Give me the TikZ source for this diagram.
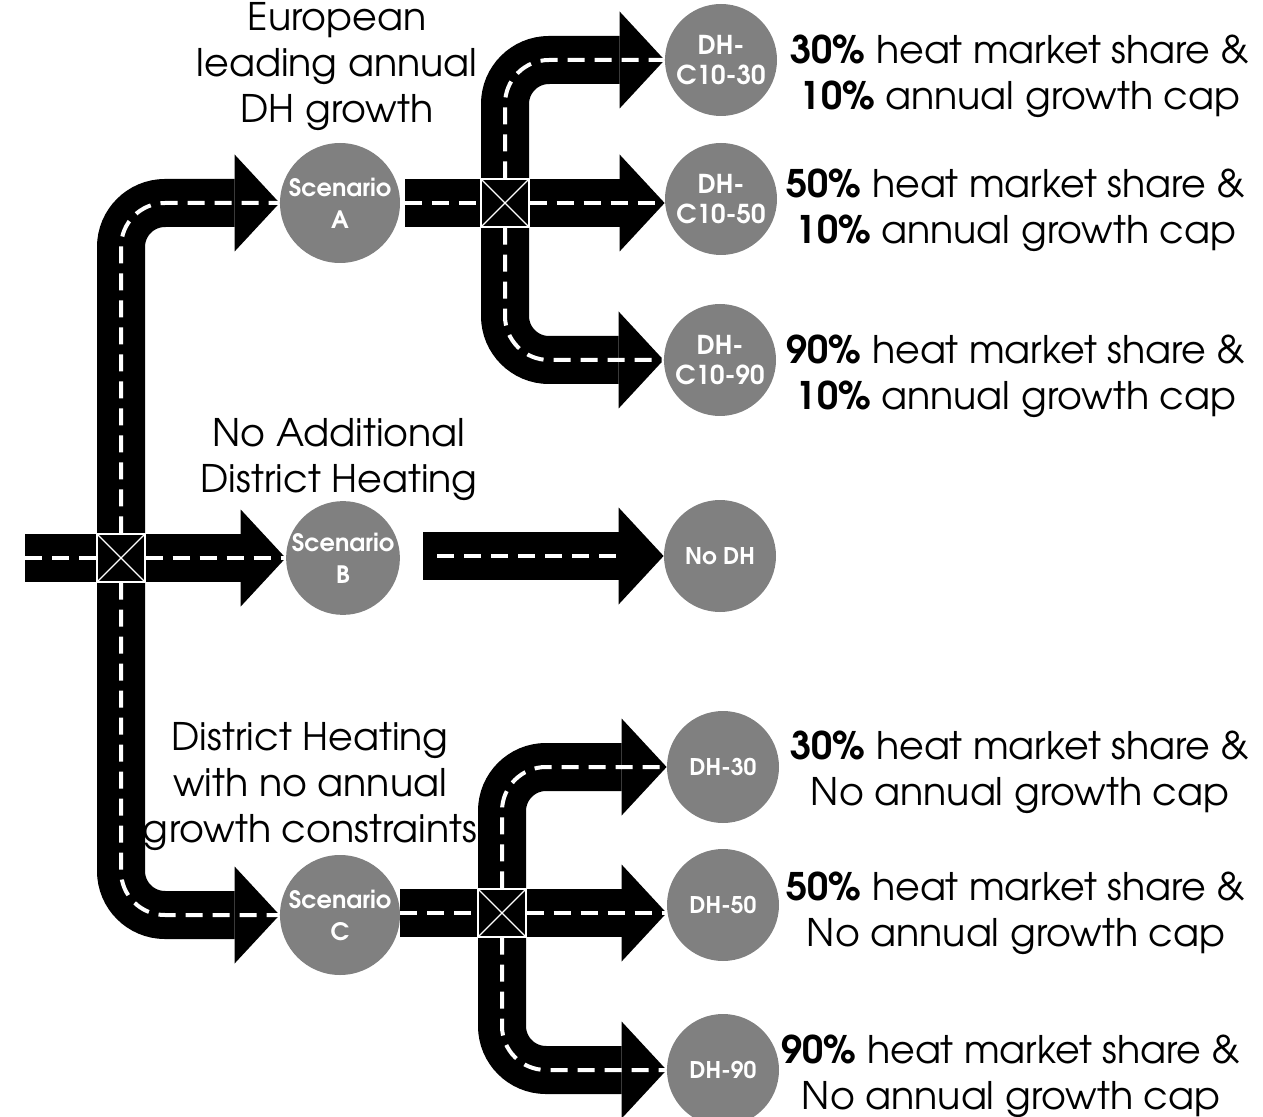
\documentclass[tikz,border=0pt]{standalone}
\usepackage{fontspec}
\setmainfont{TeX Gyre Adventor}
\usetikzlibrary{arrows.meta,backgrounds}
\definecolor{disc}{RGB}{128,128,128}

\begin{document}
\begin{tikzpicture}[x=0.5pt,y=-0.5pt,
  road/.style={white,line width=2pt,dash pattern=on 8.5pt off 5pt,rounded corners=22pt,
    preaction={draw=black,solid,line width=24pt,shorten >=0pt,shorten <=0pt}},
  roadhead/.style={white,line width=2pt,dash pattern=on 8.5pt off 5pt,rounded corners=22pt,
    preaction={draw=black,solid,line width=24pt,shorten >=0pt,shorten <=0pt,
      -{Triangle[length=22.5pt,width=48.5pt,line width=0pt]}}},
  junction/.style={rectangle,draw=white,fill=black,line width=0.6pt,minimum size=24pt,inner sep=0pt,
    path picture={\draw[white,line width=0.6pt]
      (path picture bounding box.north west) -- (path picture bounding box.south east)
      (path picture bounding box.south west) -- (path picture bounding box.north east);}},
  scen/.style={circle,fill=disc,text=white,align=center,minimum size=#1,inner sep=0pt,
    font=\bfseries\fontsize{12}{16}\selectfont},
  case/.style={circle,fill=disc,text=white,align=center,minimum size=56pt,inner sep=0pt,
    font=\bfseries\fontsize{#1}{15}\selectfont},
  case/.default=11.5,
  note/.style={align=center,inner sep=0pt,font=\fontsize{19}{23}\selectfont}]
\useasboundingbox (0,0) rectangle (1263,1117);

\node[junction] (j0) at (121,558) {};
\coordinate (in) at (25,558);
\node[scen=60pt] (sa) at (340,203) {Scenario\\A};
\node[scen=56pt] (sb) at (343,558) {Scenario\\B};
\node[scen=60pt] (sc) at (340,915) {Scenario\\C};

\node[junction] (j1) at (505,203) {};
\node[junction] (j2) at (502,913) {};
\coordinate (a0) at (405,203);
\coordinate (b0) at (423,556);
\coordinate (c0) at (400,913);

\node[case=13] (d1) at (721,60) {DH-\\C10-30};
\node[case=13] (d2) at (721,199) {DH-\\C10-50};
\node[case=13] (d3) at (720,360) {DH-\\C10-90};
\node[case] (nd) at (720,556) {No DH};
\node[case] (e1) at (723,767) {DH-30};
\node[case] (e2) at (723,905) {DH-50};
\node[case] (e3) at (723,1070) {DH-90};

\node[note] (ta) at (337,67) {European\\leading annual\\DH growth};
\node[note] (tb) at (339,460) {No Additional\\District Heating};
\node[note] (tc) at (310,787) {District Heating\\with no annual\\growth constraints};

\node[note] (t1) at (1020,76) {\textbf{30\%} heat market share \&\\\textbf{10\%} annual growth cap};
\node[note] (t2) at (1016,210) {\textbf{50\%} heat market share \&\\\textbf{10\%} annual growth cap};
\node[note] (t3) at (1016,376) {\textbf{90\%} heat market share \&\\\textbf{10\%} annual growth cap};
\node[note] (t4) at (1020,772) {\textbf{30\%} heat market share \&\\No annual growth cap};
\node[note] (t5) at (1016,913) {\textbf{50\%} heat market share \&\\No annual growth cap};
\node[note] (t6) at (1011,1076) {\textbf{90\%} heat market share \&\\No annual growth cap};

\begin{pgfonlayer}{background}
\draw[road] (in) -- (j0.west);
\draw[roadhead] (j0.north) |- (sa.west);
\draw[roadhead] (j0.east) -- (sb.west);
\draw[roadhead] (j0.south) |- (sc.west);

\draw[road] (a0) -- (j1.west);
\draw[roadhead] (j1.north) |- (d1.west);
\draw[roadhead] (j1.east) -- (d2.west |- j1);
\draw[roadhead] (j1.south) |- (d3.west);

\draw[roadhead,shorten <=7pt,shorten >=22.5pt] (b0) -- (nd.west);

\draw[road] (c0) -- (j2.west);
\draw[roadhead] (j2.north) |- (e1.west);
\draw[roadhead] (j2.east) -- (e2.west |- j2);
\draw[roadhead] (j2.south) |- (e3.west);
\end{pgfonlayer}
\end{tikzpicture}
\end{document}
